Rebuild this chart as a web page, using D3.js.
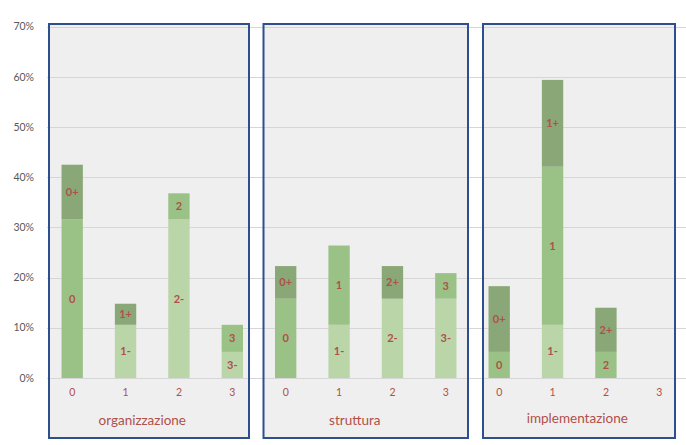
<!DOCTYPE html>
<html>
<head>
<meta charset="utf-8">
<script src="https://cdn.jsdelivr.net/npm/d3@7"></script>
<style>
  html, body { margin: 0; padding: 0; background: #ffffff; }
  svg { display: block; }
</style>
</head>
<body>
<svg id="chart" width="686" height="445"></svg>
<script>
// ---- data ----
const groups = ["organizzazione", "struttura", "implementazione"];
const levels = ["0", "1", "2", "3"];
// values in percent, one entry per (group, level), in order
const minusVals = [0, 10.6, 31.6, 5.2,   0, 10.6, 15.8, 15.8,   0, 10.6, 0, 0];
const baseVals  = [31.6, 0, 5.2, 5.4,   15.8, 15.8, 0, 5.1,    5.2, 31.5, 5.2, 0];
const plusVals  = [10.9, 4.2, 0, 0,     6.5, 0, 6.5, 0,        13.1, 17.3, 8.8, 0];
const yTicks = [0, 10, 20, 30, 40, 50, 60, 70];

// ---- layout ----
const W = 686, H = 445;
const plot = { left: 45.5, right: 686, top: 26.7, bottom: 378 };
const colors = { minus: "#bad6a9", base: "#9bc286", plus: "#8aa877" };
const labelColor = "#b0504a";
const panelInset = [[3.5, 10], [4.5, 4.5], [10.5, 11]];
const groupLabelShift = [-10, -11, -2];
const font = "Lato, 'Open Sans', sans-serif";

const svg = d3.select("#chart");

const cats = [];
groups.forEach((g, gi) => levels.forEach((l, li) => cats.push({ key: gi * 4 + li, group: gi, level: l })));

const x = d3.scaleBand().domain(cats.map(d => d.key)).range([plot.left, plot.right]).paddingInner(0.6).paddingOuter(0.3);
const step = x.step();
const y = d3.scaleLinear().domain([0, 70]).range([plot.bottom, plot.top]);

// panels (fill)
const panelData = groups.map((g, gi) => {
  const x0 = x(gi * 4) - x.paddingOuter() * step + panelInset[gi][0];
  const x1 = x(gi * 4 + 3) + x.bandwidth() + x.paddingOuter() * step - panelInset[gi][1];
  return { gi, x0, x1 };
});
svg.append("g").selectAll("rect").data(panelData).join("rect")
  .attr("x", d => d.x0).attr("y", 24)
  .attr("width", d => d.x1 - d.x0).attr("height", 414)
  .attr("fill", "#efefef");

// gridlines
svg.append("g").selectAll("line").data(yTicks).join("line")
  .attr("x1", 47).attr("x2", W)
  .attr("y1", d => Math.round(y(d)) + 0.5).attr("y2", d => Math.round(y(d)) + 0.5)
  .attr("stroke", "#d6d6d6").attr("stroke-width", 1);

// y axis labels
svg.append("g").selectAll("text").data(yTicks).join("text")
  .attr("x", 34).attr("y", d => y(d)).attr("dy", "0.35em")
  .attr("text-anchor", "end")
  .attr("font-family", font).attr("font-size", 10.5).attr("fill", "#595959")
  .text(d => d + "%");

// stacked segments
const segs = [];
cats.forEach((c, i) => {
  const parts = [
    { type: "minus", v: minusVals[i], suffix: "-" },
    { type: "base", v: baseVals[i], suffix: "" },
    { type: "plus", v: plusVals[i], suffix: "+" }
  ];
  let acc = 0;
  parts.forEach(p => {
    if (p.v > 0) {
      segs.push({ cat: c, type: p.type, y0: acc, y1: acc + p.v, label: c.level + p.suffix });
      acc += p.v;
    }
  });
});

svg.append("g").selectAll("rect").data(segs).join("rect")
  .attr("x", d => x(d.cat.key)).attr("width", x.bandwidth())
  .attr("y", d => y(d.y1)).attr("height", d => y(d.y0) - y(d.y1))
  .attr("fill", d => colors[d.type]);

svg.append("g").selectAll("text").data(segs).join("text")
  .attr("x", d => x(d.cat.key) + x.bandwidth() / 2)
  .attr("y", d => (y(d.y0) + y(d.y1)) / 2).attr("dy", "0.35em")
  .attr("text-anchor", "middle")
  .attr("font-family", font).attr("font-size", 11).attr("font-weight", "bold")
  .attr("fill", labelColor)
  .text(d => d.label);

// x tick labels
svg.append("g").selectAll("text").data(cats).join("text")
  .attr("x", d => x(d.key) + x.bandwidth() / 2).attr("y", 396)
  .attr("text-anchor", "middle")
  .attr("font-family", font).attr("font-size", 10.5)
  .attr("fill", labelColor)
  .text(d => d.level);

// group labels
svg.append("g").selectAll("text").data(groups).join("text")
  .attr("x", (d, gi) => (x(gi * 4 + 1) + x(gi * 4 + 2) + x.bandwidth()) / 2 + groupLabelShift[gi])
  .attr("y", (d, gi) => gi === 2 ? 423 : 424.5)
  .attr("text-anchor", "middle")
  .attr("font-family", font).attr("font-size", 13.5)
  .attr("fill", labelColor)
  .text(d => d);

// panel borders
svg.append("g").selectAll("rect").data(panelData).join("rect")
  .attr("x", d => d.x0).attr("y", 24)
  .attr("width", d => d.x1 - d.x0).attr("height", 414)
  .attr("fill", "none").attr("stroke", "#2e4f8e").attr("stroke-width", 2);
</script>
</body>
</html>
